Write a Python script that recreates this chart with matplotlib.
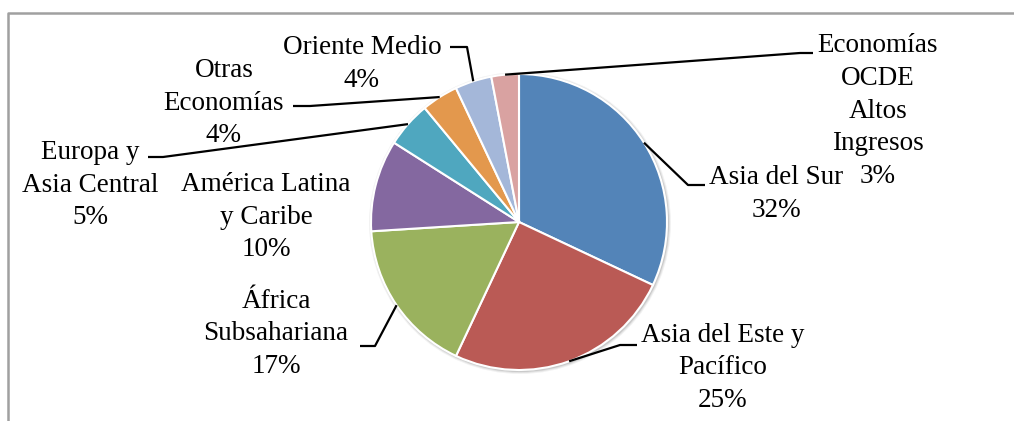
import numpy as np
import matplotlib.pyplot as plt
from matplotlib.patches import Circle

# data
regions = ['Asia del Sur', 'Asia del Este y\nPacífico', 'África\nSubsahariana',
           'América Latina\ny Caribe', 'Europa y\nAsia Central', 'Otras\nEconomías',
           'Oriente Medio', 'Economías\nOCDE\nAltos\nIngresos']
shares = [32, 25, 17, 10, 5, 4, 4, 3]
colors = ['#5384B8', '#BA5A55', '#9AB25E', '#8468A0', '#4FA7BF', '#E3984D', '#A4B7D9', '#D9A2A1']

W, H = 1014, 421
def P(x, y):
    return (x, H - y)

# layout (pixel coords, y down)
cx, cy, R = 519, 222, 148
label_xy = [(776, 194), (723, 368), (276, 334), (266, 217), (90, 185),
            (224, 103), (362, 64), (878, 111)]
# elbow and end points of the leader lines (None = no leader)
leaders = [[(688, 185), (705, 185)],
           [(620, 345), (637, 345)],
           [(375, 346), (360, 346)],
           None,
           [(163, 157), (148, 157)],
           [(310, 106), (293, 106)],
           [(467, 47), (450, 47)],
           [(800, 53), (813, 53)]]

plt.rcParams['font.family'] = ['Liberation Serif', 'DejaVu Serif']
fig = plt.figure(figsize=(W / 100, H / 100), dpi=100)
ax = fig.add_axes([0, 0, 1, 1])

# chart frame (cut off at right and bottom)
ax.plot([8, 8, W + 5], [-5, H - 13, H - 13], color='#A0A0A0', lw=1.8, zorder=0)

# soft shadow under the pie
for i, a in enumerate([0.05, 0.07, 0.1]):
    ax.add_patch(Circle(P(cx + 1, cy + 1), R + 3 - i, color='black', alpha=a, lw=0, zorder=1))

wedges, _ = ax.pie(shares, colors=colors, startangle=90, counterclock=False,
                   center=P(cx, cy), radius=R, frame=True,
                   wedgeprops=dict(edgecolor='white', linewidth=1.5, zorder=2))
ax.set_xlim(0, W)
ax.set_ylim(0, H)
ax.axis('off')

for w, lab, v, xy, ld in zip(wedges, regions, shares, label_xy, leaders):
    txt = lab + '\n' + str(v) + '%'
    ax.text(*P(*xy), txt, ha='center', va='center', multialignment='center',
            fontsize=19.5, linespacing=1.4, color='black', zorder=5)
    if ld is None:
        continue
    mid = np.deg2rad((w.theta1 + w.theta2) / 2)
    start = (cx + R * np.cos(mid), cy - R * np.sin(mid))
    pts = [P(*start)] + [P(*p) for p in ld]
    xs, ys = zip(*pts)
    ax.plot(xs, ys, color='black', lw=1.6, zorder=4, solid_capstyle='butt')

fig.savefig('out.png', dpi=100, facecolor='white')
